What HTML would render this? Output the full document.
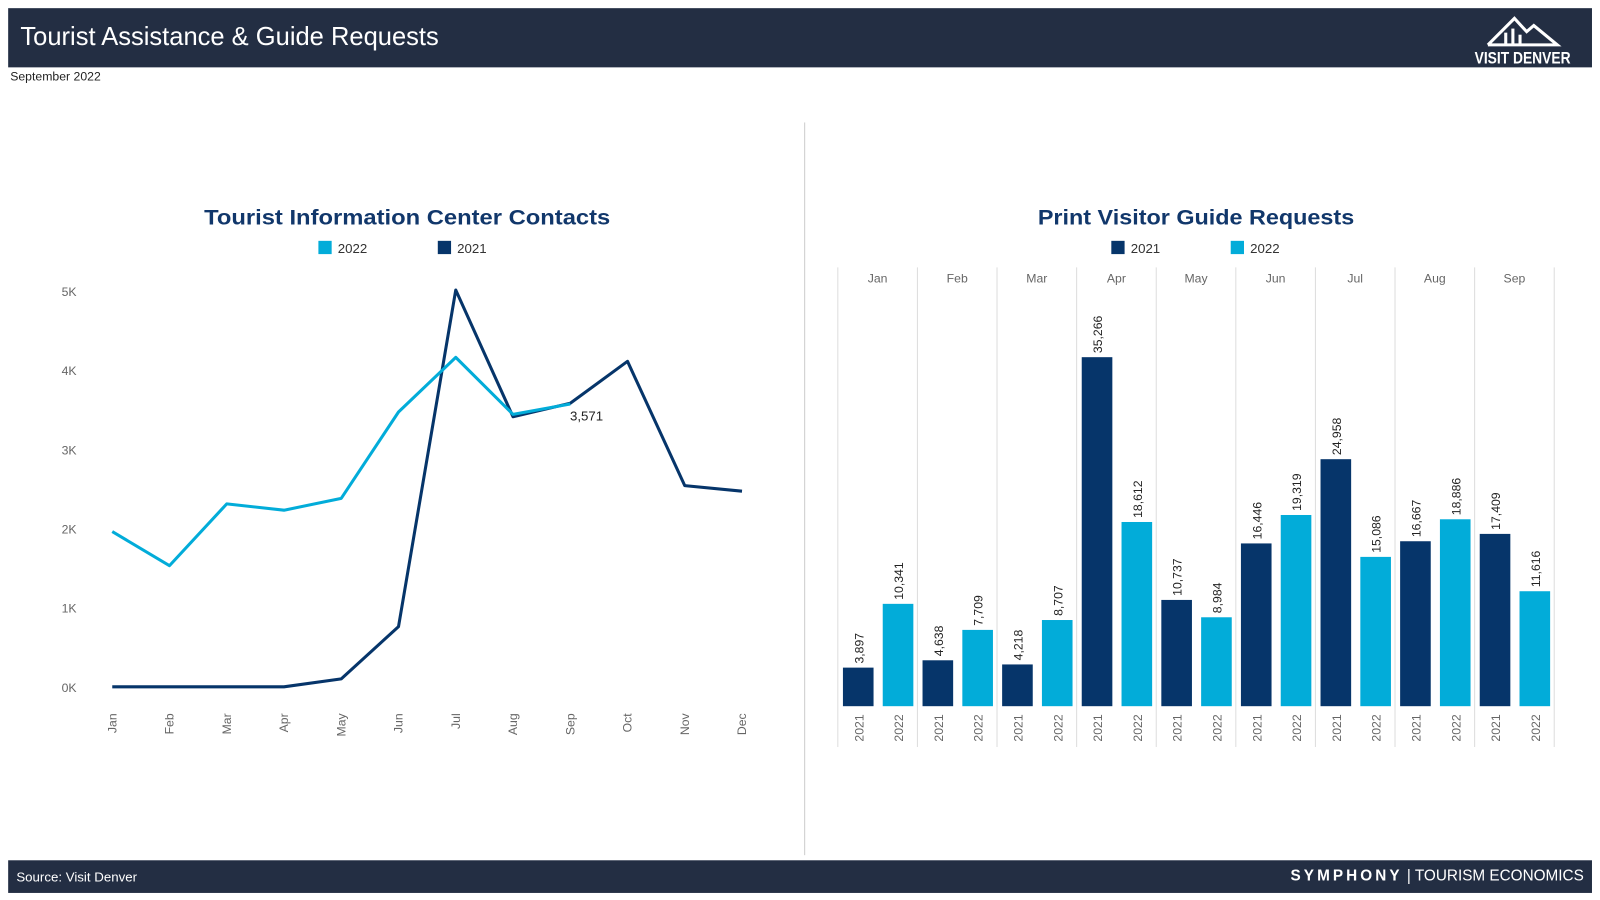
<!DOCTYPE html>
<html><head><meta charset="utf-8"><style>
body{margin:0;width:1600px;height:900px;background:#fff;font-family:"Liberation Sans",sans-serif;position:relative;overflow:hidden}
#wrap{position:absolute;left:0;top:0;width:1568px;height:882px;transform:scale(1.0205);transform-origin:0 0}
.hdr{position:absolute;left:8px;top:8px;width:1552px;height:58px;background:#232e43}
.ftr{position:absolute;left:8px;top:843px;width:1552px;height:32px;background:#232e43}
</style></head><body>
<div id="wrap">
<div class="hdr">
<div style="position:absolute;left:12px;top:14px;color:#fff;font-size:25px">Tourist Assistance &amp; Guide Requests</div>
<svg style="position:absolute;left:1420px;top:4px" width="125" height="54">
<polyline points="30,32 56,6 68,19 75,13 98,32 30,32" fill="none" stroke="#fff" stroke-width="3"/>
<rect x="46" y="20" width="3" height="12" fill="#fff"/><rect x="53" y="16" width="3" height="16" fill="#fff"/><rect x="60" y="22" width="3" height="10" fill="#fff"/>
<text x="64" y="50" text-anchor="middle" fill="#fff" font-size="16" font-weight="bold" textLength="94" lengthAdjust="spacingAndGlyphs">VISIT DENVER</text>
</svg>
</div>
<div style="position:absolute;left:10px;top:68px;font-size:12px;color:#222">September 2022</div>
<div style="position:absolute;left:788px;top:120px;width:1px;height:718px;background:#ccc"></div>
<div class="ftr">
<div style="position:absolute;left:8px;top:9px;color:#fff;font-size:13px">Source: Visit Denver</div>
<div style="position:absolute;right:8px;top:7px;color:#fff;font-size:15px"><b style="letter-spacing:3px">SYMPHONY</b> | TOURISM ECONOMICS</div>
</div>
<svg id="c" width="1568" height="882" style="position:absolute;left:0;top:0" font-family="Liberation Sans, sans-serif"></svg>
</div>
<script>
const months=["Jan","Feb","Mar","Apr","May","Jun","Jul","Aug","Sep","Oct","Nov","Dec"];
const line2022=[1960,1530,2310,2230,2380,3470,4160,3440,3571];
const line2021=[0,0,0,0,100,760,5010,3410,3580,4110,2540,2470];
const yTicks=[0,1000,2000,3000,4000,5000];
const yTickLabels=["0K","1K","2K","3K","4K","5K"];
const barMonths=["Jan","Feb","Mar","Apr","May","Jun","Jul","Aug","Sep"];
const bars2021=[3897,4638,4218,35266,10737,16446,24958,16667,17409];
const bars2022=[10341,7709,8707,18612,8984,19319,15086,18886,11616];
const C21="#06356a",C22="#02acd9";
const svg=document.getElementById('c');const NS="http://www.w3.org/2000/svg";
function mk(t,a,p){const e=document.createElementNS(NS,t);for(const k in a)e.setAttribute(k,a[k]);(p||svg).appendChild(e);return e;}
function fmt(v){return v.toLocaleString('en-US');}
const lx=i=>110+i*56.1, ly=v=>673-v*0.0776;
let t=mk('text',{x:399,y:220,'text-anchor':'middle','font-size':21,'font-weight':'bold',fill:'#11376b',textLength:398,lengthAdjust:'spacingAndGlyphs'});t.textContent='Tourist Information Center Contacts';


[[312,'2022',C22],[429,'2021',C21]].forEach(([x,l,c])=>{const g=mk('g',{});


mk('rect',{x:x,y:236,width:13,height:13,fill:c},g);const tt=mk('text',{x:x+19,y:248,'font-size':13,fill:'#333'},g);tt.textContent=l;});
yTicks.forEach((v,i)=>{const e=mk('text',{x:75,y:ly(v)+5,'text-anchor':'end','font-size':12,fill:'#666'});e.textContent=yTickLabels[i];

});
months.forEach((m,i)=>{const e=mk('text',{transform:`translate(${lx(i)+4},699) rotate(-90)`,'text-anchor':'end','font-size':12,fill:'#666'});e.textContent=m;

});
let p=mk('polyline',{points:line2021.map((v,i)=>lx(i)+','+ly(v)).join(' '),fill:'none',stroke:C21,'stroke-width':3,'stroke-linejoin':'round'});


p=mk('polyline',{points:line2022.map((v,i)=>lx(i)+','+ly(v)).join(' '),fill:'none',stroke:C22,'stroke-width':3,'stroke-linejoin':'round'});


const li=line2022.length-1;t=mk('text',{x:lx(li)+16,y:ly(line2022[li])+16,'text-anchor':'middle','font-size':13,fill:'#222'});t.textContent=fmt(line2022[li]);


t=mk('text',{x:1172,y:220,'text-anchor':'middle','font-size':21,'font-weight':'bold',fill:'#11376b',textLength:310,lengthAdjust:'spacingAndGlyphs'});t.textContent='Print Visitor Guide Requests';


[[1089,'2021',C21],[1206,'2022',C22]].forEach(([x,l,c])=>{const g=mk('g',{});


mk('rect',{x:x,y:236,width:13,height:13,fill:c},g);const tt=mk('text',{x:x+19,y:248,'font-size':13,fill:'#333'},g);tt.textContent=l;});
const bx=i=>821+i*78, by=v=>692-v*342/35266;
for(let i=0;i<=barMonths.length;i++){const l=mk('line',{x1:bx(i),x2:bx(i),y1:262,y2:732,stroke:'#ddd','stroke-width':1});

}
barMonths.forEach((m,i)=>{
 const e=mk('text',{x:bx(i)+39,y:277,'text-anchor':'middle','font-size':12,fill:'#666'});e.textContent=m;
 
 
 [[bars2021[i],5,C21,'2021'],[bars2022[i],44,C22,'2022']].forEach(([v,o,c,yr])=>{
  const r=mk('rect',{x:bx(i)+o,y:by(v),width:30,height:692-by(v),fill:c});
  
  
  const vl=mk('text',{transform:`translate(${bx(i)+o+20},${by(v)-4}) rotate(-90)`,'font-size':12,fill:'#222'});vl.textContent=fmt(v);
  
  
  const yl=mk('text',{transform:`translate(${bx(i)+o+20},700) rotate(-90)`,'text-anchor':'end','font-size':12,fill:'#666'});yl.textContent=yr;
  
  
 });
});
</script>
</body></html>
